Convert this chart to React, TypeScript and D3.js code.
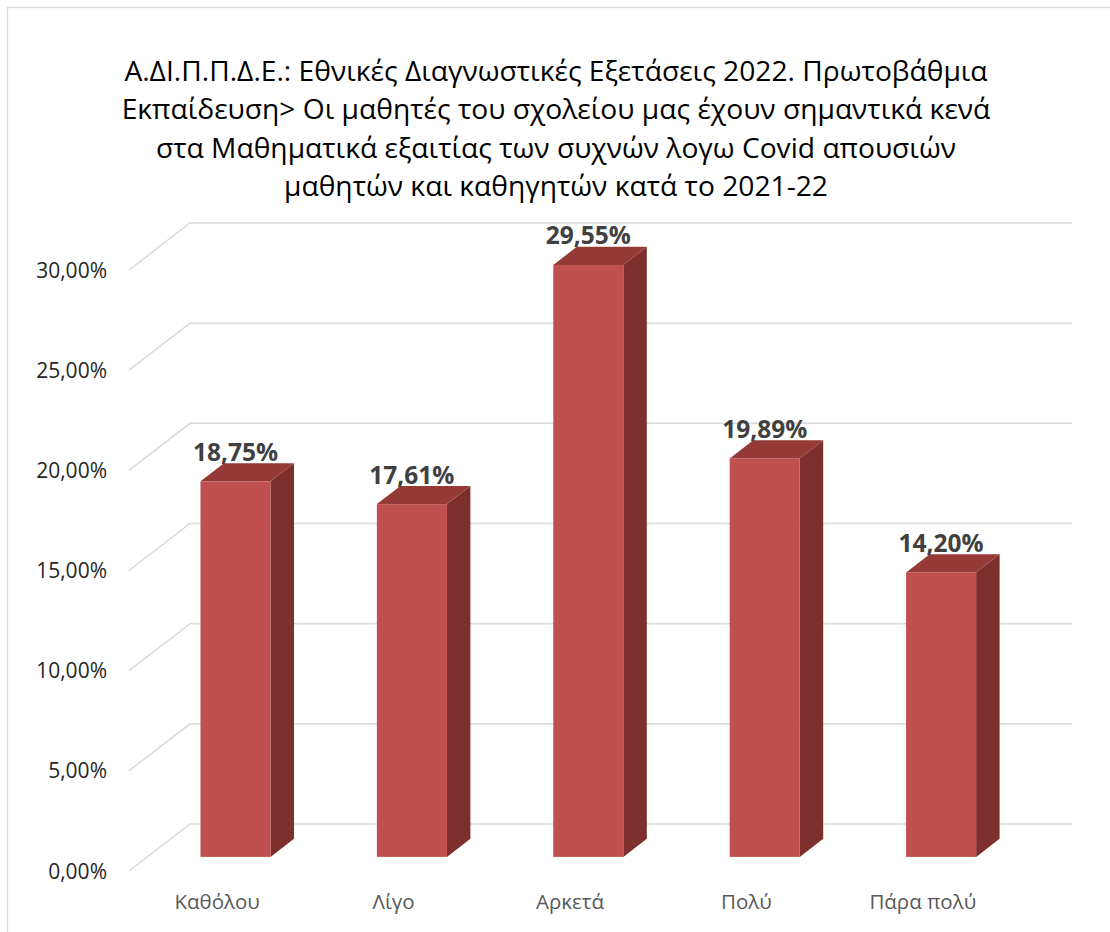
import React from "react";
import * as d3 from "d3";

const titleLines = [
  "Α.ΔΙ.Π.Π.Δ.Ε.: Εθνικές Διαγνωστικές Εξετάσεις 2022. Πρωτοβάθμια",
  "Εκπαίδευση> Οι μαθητές του σχολείου μας έχουν σημαντικά κενά",
  "στα Μαθηματικά εξαιτίας των συχνών λογω Covid απουσιών",
  "μαθητών και καθηγητών κατά το 2021-22",
];
const categories = ["Καθόλου", "Λίγο", "Αρκετά", "Πολύ", "Πάρα πολύ"];
const values = [18.75, 17.61, 29.55, 19.89, 14.2];
const yTicks = [0, 5, 10, 15, 20, 25, 30];

const W = 1110;
const H = 932;
const FONT = "'Open Sans', 'Noto Sans', sans-serif";

export default function App() {
  // front plane
  const x = d3
    .scaleBand<string>()
    .domain(categories)
    .range([129, 1011])
    .paddingInner(0.603)
    .paddingOuter(0.3015);
  const y = d3.scaleLinear().domain([0, 30]).range([871, 270]);
  const depth = { dx: 61, dy: -47 };
  const t0 = 0.3;
  const t1 = 0.685;
  const fmt = (v: number) => v.toFixed(2).replace(".", ",") + "%";

  const x0 = x.range()[0];
  const x1 = x.range()[1];

  return (
    <svg
      width={W}
      height={H}
      style={{ position: "absolute", left: 0, top: 0, background: "#fff" }}
      fontFamily={FONT}
    >
      <rect x={7.5} y={7.5} width={W + 10} height={H + 10} fill="#fff" stroke="#d9d9d9" strokeWidth={1.3} />
      {/* title */}
      <g textAnchor="middle" fontSize={28.2} fill="#000">
        {titleLines.map((t, i) => (
          <text key={i} x={556} y={81 + i * 38.3}>
            {t}
          </text>
        ))}
      </g>
      {/* gridlines: side wall diagonals and back wall */}
      <g stroke="#d9d9d9" strokeWidth={1.5} fill="none">
        {yTicks.map((t) => (
          <path
            key={t}
            d={`M${x0},${y(t)} L${x0 + depth.dx},${y(t) + depth.dy} L${x1 + depth.dx},${y(t) + depth.dy}`}
          />
        ))}
      </g>
      {/* y tick labels */}
      <g textAnchor="end" fontSize={21} fill="#262626">
        {yTicks.map((t) => (
          <text key={t} x={107} y={y(t)} dy="0.36em">
            {fmt(t)}
          </text>
        ))}
      </g>
      {/* bars */}
      {values.map((v, i) => {
        const bx = (x(categories[i]) as number) + t0 * depth.dx;
        const bw = x.bandwidth();
        const yb = y(0) + t0 * depth.dy;
        const yt = y(v) + t0 * depth.dy;
        const ddx = (t1 - t0) * depth.dx;
        const ddy = (t1 - t0) * depth.dy;
        return (
          <g key={categories[i]}>
            <path
              d={`M${bx + bw},${yt} L${bx + bw + ddx},${yt + ddy} L${bx + bw + ddx},${yb + ddy} L${bx + bw},${yb} Z`}
              fill="#7c2f2d"
            />
            <path
              d={`M${bx},${yt} L${bx + ddx},${yt + ddy} L${bx + bw + ddx},${yt + ddy} L${bx + bw},${yt} Z`}
              fill="#953a37"
            />
            <rect x={bx} y={yt} width={bw} height={yb - yt} fill="#c0504d" />
            <text
              x={bx + bw / 2}
              y={yt + ddy - 2.5}
              textAnchor="middle"
              fontSize={24.5}
              fontWeight="bold"
              fill="#404040"
            >
              {fmt(v)}
            </text>
          </g>
        );
      })}
      {/* category labels */}
      <g textAnchor="middle" fontSize={20.5} fill="#595959">
        {categories.map((c) => (
          <text key={c} x={(x(c) as number) + x.bandwidth() / 2} y={909}>
            {c}
          </text>
        ))}
      </g>
    </svg>
  );
}
